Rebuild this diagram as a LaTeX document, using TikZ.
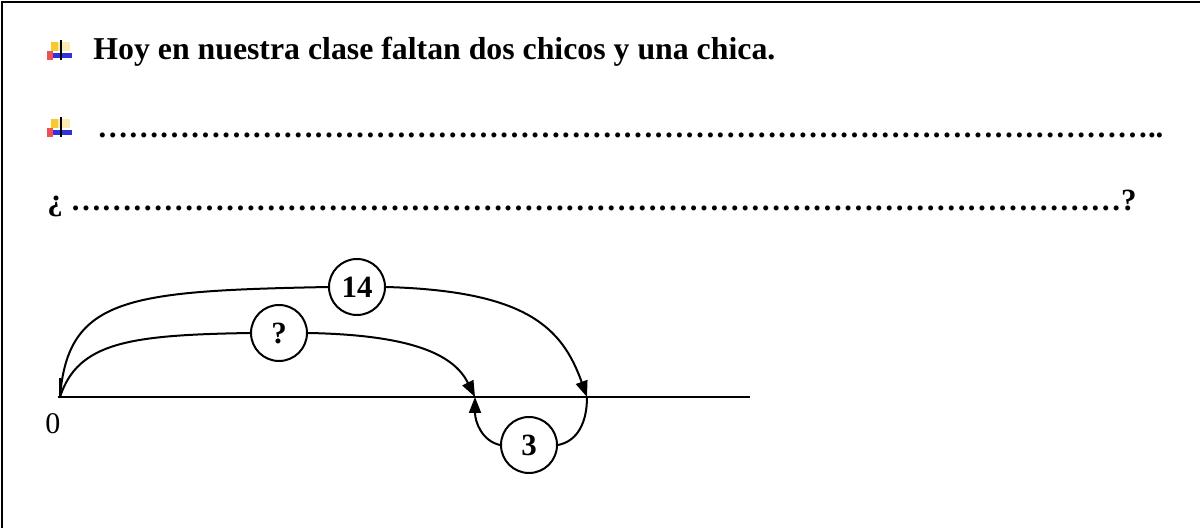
\documentclass[tikz,border=0pt]{standalone}
\usepackage{fontspec}
\setmainfont{Liberation Serif}
\usetikzlibrary{arrows.meta, positioning}
\definecolor{bulyellow}{HTML}{F7C830}
\definecolor{bulpale}{HTML}{FBEBB0}
\definecolor{bulred}{HTML}{F05050}
\definecolor{bulblue}{HTML}{3030E0}
\tikzset{
  txtline/.style={anchor=base west, inner sep=0pt, font=\fontsize{15.45}{18}\selectfont\bfseries},
  numcirc/.style={circle, draw, line width=1pt, minimum size=28pt, inner sep=0pt,
    font=\fontsize{15.45}{18}\selectfont\bfseries},
  jump/.style={line width=1pt},
  jumparrow/.style={jump, -{Triangle[length=8pt, width=6pt]}},
  bulletico/.pic={
    \fill[bulpale] (11,2) rectangle (23,11);
    \fill[bulyellow] (4,2) rectangle (11,11);
    \fill[bulred] (0,11) rectangle (6,20);
    \fill[bulblue] (6,13) rectangle (25,18);
    \draw[line width=1pt] (14,0) -- (14,20);
  },
}
\newcommand\dotrun[1]{\foreach \k in {1,...,#1}{…}}

\begin{document}
\begin{tikzpicture}[x=0.5pt,y=-0.5pt]
  \useasboundingbox (0,0) rectangle (1200,528);
  % Rahmen (nur oben und links sichtbar)
  \draw[line width=1pt] (2,528) -- (2,2) -- (1200,2);
  % Zeilen mit Aufzaehlungszeichen
  \pic at (47,40) {bulletico};
  \node[txtline, font=\fontsize{15.9}{18}\selectfont\bfseries] (txtA) at (93,60)
    {Hoy en nuestra clase faltan dos chicos y una chica.};
  \pic at (47,117) {bulletico};
  \node[txtline] (dotsB) at (97,138) {\dotrun{34}..};
  \node[txtline] (dotsC) at (47,211) {¿ \dotrun{34}?};
  % Zahlenstrahl
  \coordinate (n0) at (60,397);
  \coordinate (lineend) at (750,397);
  \coordinate (p3) at (475,397);
  \coordinate (p14) at (587,397);
  \draw[jump] (58,397) -- (lineend);
  \draw[jump] (n0) -- ++(0,-19);
  \node[font=\fontsize{15}{17}\selectfont] (zero) at (53,424) {0};
  % Spruenge
  \node[numcirc] (c14) at (357,287) {14};
  \node[numcirc] (cq) at (279,333) {?};
  \node[numcirc] (c3) at (529,445) {3};
  \draw[jump] (n0) .. controls +(8,-100) and +(-200,4) .. (c14.west);
  \draw[jumparrow] (c14.east) .. controls +(140,4) and +(-25,-70) .. (p14);
  \draw[jump] (n0) .. controls +(18,-55) and +(-120,2) .. (cq.west);
  \draw[jumparrow] (cq.east) .. controls +(110,2) and +(-20,-40) .. (p3);
  \draw[jumparrow] (c3.west) .. controls +(-18,-4) and +(0,25) .. (p3);
  \draw[jump] (c3.east) .. controls +(20,-4) and +(0,25) .. (p14);
\end{tikzpicture}
\end{document}
